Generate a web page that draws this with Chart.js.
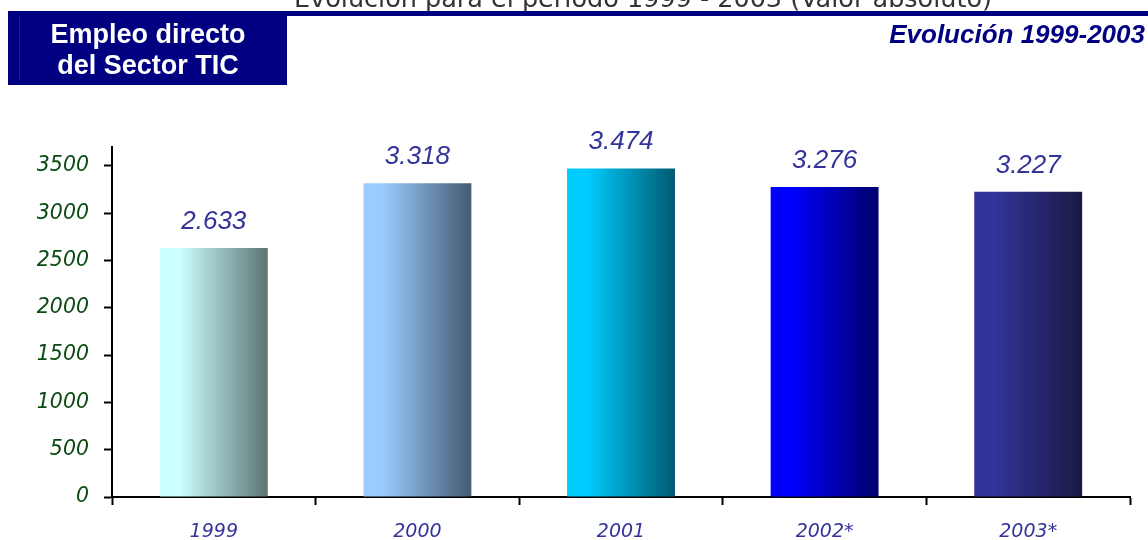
<!DOCTYPE html>
<html>
<head>
<meta charset="utf-8">
<script src="https://cdn.jsdelivr.net/npm/chart.js@4/dist/chart.umd.min.js"></script>
<style>
  body { margin: 0; background: #fff; }
  #wrap { width: 1148px; height: 540px; position: relative; }
</style>
</head>
<body>
<div id="wrap"><canvas id="empleoChart"></canvas></div>
<script>
const years = ["1999", "2000", "2001", "2002*", "2003*"];
const empleo = [2633, 3318, 3474, 3276, 3227];
const yTicks = [0, 500, 1000, 1500, 2000, 2500, 3000, 3500];
const barLeft = ["#ccffff", "#99ccff", "#00ccff", "#0000ff", "#333399"];
const barRight = ["#5c7474", "#445a72", "#005a70", "#00006c", "#1a1a46"];

const catPct = 0.53;

// thousands with a dot, as in the original
function fmt(v) {
    return String(v).replace(/\B(?=(\d{3})+(?!\d))/g, ".");
}

function barFill(ctx) {
    const chart = ctx.chart;
    const xs = chart.scales.x;
    const i = ctx.dataIndex;
    if (!chart.chartArea || !xs) return barLeft[i];
    const cx = xs.getPixelForValue(i);
    const half = xs.width / years.length * catPct / 2;
    const g = chart.ctx.createLinearGradient(cx - half, 0, cx + half, 0);
    g.addColorStop(0, barLeft[i]);
    g.addColorStop(0.18, barLeft[i]);
    g.addColorStop(1, barRight[i]);
    return g;
}

const header = {
    id: "header",
    afterDraw(chart) {
        const c = chart.ctx;
        c.save();
        // top title, cut by the top edge
        c.fillStyle = "#333";
        c.font = "25.5px 'DejaVu Sans'";
        c.textAlign = "center";
        c.textBaseline = "alphabetic";
        c.fillText("Evolución para el período 1999 - 2003 (Valor absoluto)", 643, 7, 698);

        // navy rule and box
        c.fillStyle = "#000080";
        c.fillRect(8, 11, 1140, 5);
        c.fillRect(8, 11, 279, 74);
        c.fillStyle = "#1c1c8c";
        c.fillRect(19, 16, 1, 64);

        c.fillStyle = "#fff";
        c.font = "bold 27px 'Liberation Sans'";
        c.fillText("Empleo directo", 148, 43);
        c.fillText("del Sector TIC", 148, 74);

        c.fillStyle = "#000080";
        c.font = "italic bold 26px 'Liberation Sans'";
        c.textAlign = "right";
        c.fillText("Evolución 1999-2003", 1145, 43);

        // value labels above bars
        const meta = chart.getDatasetMeta(0);
        c.fillStyle = "#333399";
        c.font = "italic 26px 'Liberation Sans'";
        c.textAlign = "center";
        meta.data.forEach((bar, i) => {
            c.fillText(fmt(empleo[i]), bar.x, bar.y - 19);
        });
        c.restore();
    }
};

new Chart(document.getElementById("empleoChart"), {
    type: "bar",
    data: {
        labels: years,
        datasets: [{
            data: empleo,
            backgroundColor: barFill,
            borderWidth: 0,
            barPercentage: 1,
            categoryPercentage: catPct
        }]
    },
    options: {
        responsive: true,
        maintainAspectRatio: false,
        animation: false,
        events: [],
        layout: {
            padding: { top: 147, right: 18, left: 0, bottom: 0 }
        },
        plugins: {
            legend: { display: false },
            tooltip: { enabled: false }
        },
        scales: {
            x: {
                grid: {
                    offset: true,
                    drawOnChartArea: false,
                    tickLength: 8,
                    tickWidth: 2,
                    tickColor: "#000"
                },
                border: { color: "#000", width: 2 },
                ticks: {
                    color: "#333399",
                    padding: 16,
                    font: { family: "DejaVu Sans", size: 19, style: "italic" }
                },
                afterFit(scale) { scale.height = 43; }
            },
            y: {
                min: 0,
                max: 3700,
                grid: {
                    drawOnChartArea: false,
                    tickLength: 8,
                    tickWidth: 2,
                    tickColor: "#000"
                },
                border: { color: "#000", width: 2 },
                ticks: {
                    color: "#0b4a12",
                    padding: 15,
                    font: { family: "DejaVu Sans", size: 20.5, style: "italic" },
                    callback: v => String(v)
                },
                afterBuildTicks(scale) {
                    scale.ticks = yTicks.map(v => ({ value: v }));
                },
                afterFit(scale) { scale.width = 112; }
            }
        }
    },
    plugins: [header]
});
</script>
</body>
</html>
